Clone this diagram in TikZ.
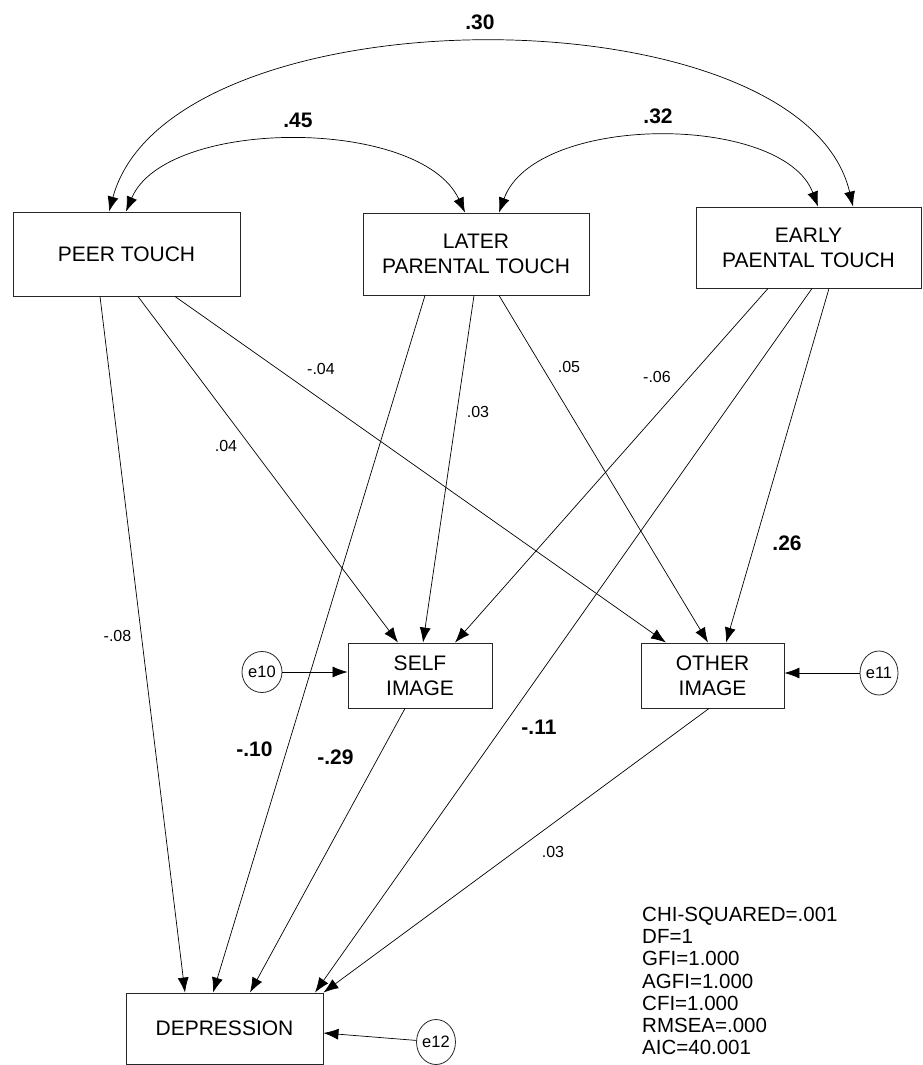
\documentclass[tikz,border=0pt]{standalone}
\usepackage{fontspec}
\setmainfont{Liberation Sans}
\usetikzlibrary{arrows.meta,shapes.geometric}

\begin{document}
\begin{tikzpicture}[x=1pt,y=-1pt,
        box/.style={draw=black!85,line width=0.9pt,inner sep=0pt,align=center,font=\fontsize{21}{25}\selectfont},
        err/.style={draw=black!85,line width=0.8pt,shape=ellipse,inner sep=0pt,font=\fontsize{16.5}{18}\selectfont},
        link/.style={-{Latex[length=15pt,width=11pt]},line width=0.7pt},
        corr/.style={{Latex[length=15pt,width=11pt]}-{Latex[length=15pt,width=11pt]},line width=0.7pt},
        coef/.style={font=\fontsize{16}{18}\selectfont},
        bcoef/.style={font=\bfseries\fontsize{21}{24}\selectfont}]
        \useasboundingbox (0,0) rectangle (922,1065);
        % variables
        \node[box,minimum width=227pt,minimum height=84pt] (peer) at (126.5,254) {PEER TOUCH};
        \node[box,minimum width=226pt,minimum height=82pt] (later) at (476,254) {LATER\\PARENTAL TOUCH};
        \node[box,minimum width=225pt,minimum height=81pt] (early) at (808.5,247.5) {EARLY\\PAENTAL TOUCH};
        \node[box,minimum width=144pt,minimum height=65pt] (self) at (420,675.5) {SELF\\IMAGE};
        \node[box,minimum width=143pt,minimum height=65pt] (other) at (712.5,675.5) {OTHER\\IMAGE};
        \node[box,minimum width=197pt,minimum height=71pt] (dep) at (224.5,1028.5) {DEPRESSION};
        % error terms
        \node[err,minimum width=40pt,minimum height=41pt] (e10) at (262,672) {e10};
        \node[err,minimum width=38pt,minimum height=44pt] (e11) at (879,673) {e11};
        \node[err,minimum width=37pt,minimum height=45pt] (e12) at (436,1042) {e12};
        \draw[link] (e10) -- (e10 -| self.west);
        \draw[link] (e11) -- (e11 -| other.east);
        \draw[link] (e12) -- ([yshift=-4.5pt]dep.east);
        % correlations
        \draw[corr] ([xshift=-17.5pt]peer.north) .. controls (170,-12) and (802,-12) .. ([xshift=44.5pt]early.north);
        \draw[corr] ([xshift=-0.5pt]peer.north) .. controls (166,117) and (421,117) .. ([xshift=-11pt]later.north);
        \draw[corr] ([xshift=23pt]later.north) .. controls (535,113) and (783,113) .. ([xshift=9.5pt]early.north);
        \node[bcoef] (r1) at (480,22.5) {.30};
        \node[bcoef] (r2) at (298,120.5) {.45};
        \node[bcoef] (r3) at (658,116) {.32};
        % paths
        \draw[link] ([xshift=-26.5pt]peer.south) -- ([xshift=-39.5pt]dep.north);
        \draw[link] ([xshift=11.5pt]peer.south) -- ([xshift=-22pt]self.north);
        \draw[link] ([xshift=48.5pt]peer.south) -- ([xshift=-46.5pt]other.north);
        \draw[link] ([xshift=-51pt]later.south) -- ([xshift=-11.5pt]dep.north);
        \draw[link] ([xshift=-2pt]later.south) -- ([xshift=3pt]self.north);
        \draw[link] ([xshift=23pt]later.south) -- ([xshift=-4.5pt]other.north);
        \draw[link] ([xshift=-40.5pt]early.south) -- ([xshift=35pt]self.north);
        \draw[link] ([xshift=3.5pt]early.south) -- ([xshift=90.5pt]dep.north);
        \draw[link] ([xshift=20.5pt]early.south) -- ([xshift=13.5pt]other.north);
        \draw[link] ([xshift=-15pt]self.south) -- ([xshift=25.5pt]dep.north);
        \draw[link] ([xshift=-3.5pt]other.south) -- (dep.north east);
        % coefficients
        \node[coef] (b1) at (117.5,636) {-.08};
        \node[coef] (b2) at (226,446) {.04};
        \node[coef] (b3) at (321,369) {-.04};
        \node[coef] (b4) at (478,412) {.03};
        \node[coef] (b5) at (569,367) {.05};
        \node[coef] (b6) at (657,376.5) {-.06};
        \node[coef] (b7) at (553,852) {.03};
        \node[bcoef] (b8) at (254.5,749) {-.10};
        \node[bcoef] (b9) at (335.5,757) {-.29};
        \node[bcoef] (b10) at (539,727.5) {-.11};
        \node[bcoef] (b11) at (787,543) {.26};
        % fit
        \node[anchor=west,inner sep=0pt,align=left,font=\fontsize{20.5}{22.3}\selectfont] (fit) at (642,981) {CHI-SQUARED=.001\\DF=1\\GFI=1.000\\AGFI=1.000\\CFI=1.000\\RMSEA=.000\\AIC=40.001};
\end{tikzpicture}
\end{document}
